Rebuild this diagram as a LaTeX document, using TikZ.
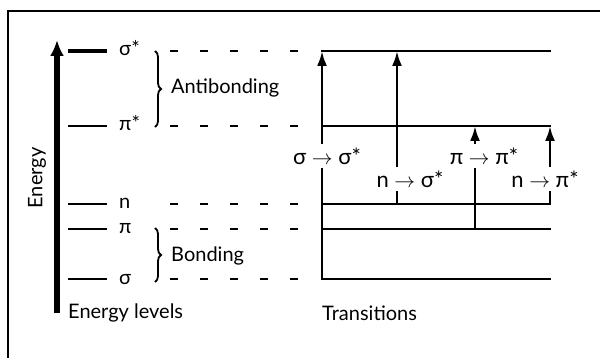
\documentclass[tikz,border=0pt]{standalone}
\usepackage{fontspec}
\setmainfont{Lato}
\usepackage{tikz}
\usetikzlibrary{arrows.meta, decorations.pathreplacing, positioning}

\begin{document}
\begin{tikzpicture}[x=1pt, y=-1pt,
                    frame/.style={line width=2pt},
                    level/.style={line width=2.6pt},
                    guide/.style={line width=2.6pt, dash pattern=on 8pt off 22pt},
                    jump/.style={line width=2.6pt, line cap=rect},
                    uparrow/.style={-{Latex[length=15pt,width=10pt]}},
                    curly/.style={line width=1.8pt, decorate, decoration={brace, amplitude=6pt}},
                    lbl/.style={font=\fontsize{20}{24}\selectfont, inner sep=0pt},
                    trans/.style={font=\fontsize{22}{24}\selectfont, inner sep=0pt, minimum height=26pt}]
                    \useasboundingbox (0,0) rectangle (600,358);
                    \draw[frame] (8,370) -- (8,11) -- (610,11);

                    \draw[line width=5.5pt, -{Latex[length=16pt,width=14pt]}] (57,313) -- (57,40);
                    \node (axis) [lbl, rotate=90] at (37,178) {Energy};

                    \foreach \lvl/\y/\w/\sym in {ss/51/4/σ*, ps/126/2.6/π*, n/204/2.6/n, p/229/2.6/π, s/279/2.6/σ} {
                        \draw[level, line width=\w pt] (68,\y) -- (107,\y);
                        \node (sym-\lvl) [lbl, anchor=base west] at (119,\y+5) {\sym};
                        \draw[guide] (170,\y) -- (302,\y);
                        \coordinate (L-\lvl) at (322,\y);
                        \coordinate (R-\lvl) at (550,\y);
                        \draw[jump] (L-\lvl) -- (R-\lvl);
                    }

                    \draw[curly] (155,51) -- (155,127);
                    \node (anti) [lbl, anchor=west] at (171,88) {Antibonding};
                    \draw[curly] (155,228) -- (155,282);
                    \node (bond) [lbl, anchor=west] at (171,256) {Bonding};

                    \node (ss-lab) [trans] at (327,156) {σ $\rightarrow$ σ*};
                    \node (ns-lab) [trans] at (410,179) {n $\rightarrow$ σ*};
                    \node (pp-lab) [trans] at (484,156) {π $\rightarrow$ π*};
                    \node (np-lab) [trans] at (545,179) {n $\rightarrow$ π*};

                    \coordinate (ns-bot) at (397,204);
                    \coordinate (ns-top) at (397,51);
                    \coordinate (pp-bot) at (475,229);
                    \coordinate (pp-top) at (475,126);

                    \draw[jump] (L-s) -- (L-s |- ss-lab.south);
                    \draw[jump, uparrow] (L-s |- ss-lab.north) -- (L-ss);
                    \draw[jump] (ns-bot) -- (ns-bot |- ns-lab.south);
                    \draw[jump, uparrow] (ns-bot |- ns-lab.north) -- (ns-top);
                    \draw[jump] (pp-bot) -- (pp-bot |- pp-lab.south);
                    \draw[jump, uparrow] (pp-bot |- pp-lab.north) -- (pp-top);
                    \draw[jump] (R-n) -- (R-n |- np-lab.south);
                    \draw[jump, uparrow] (R-n |- np-lab.north) -- (R-ps);

                    \node (levels) [lbl, anchor=west] at (68,313) {Energy levels};
                    \node (trans) [lbl, anchor=west] at (322,313) {Transitions};
                \end{tikzpicture}
\end{document}
